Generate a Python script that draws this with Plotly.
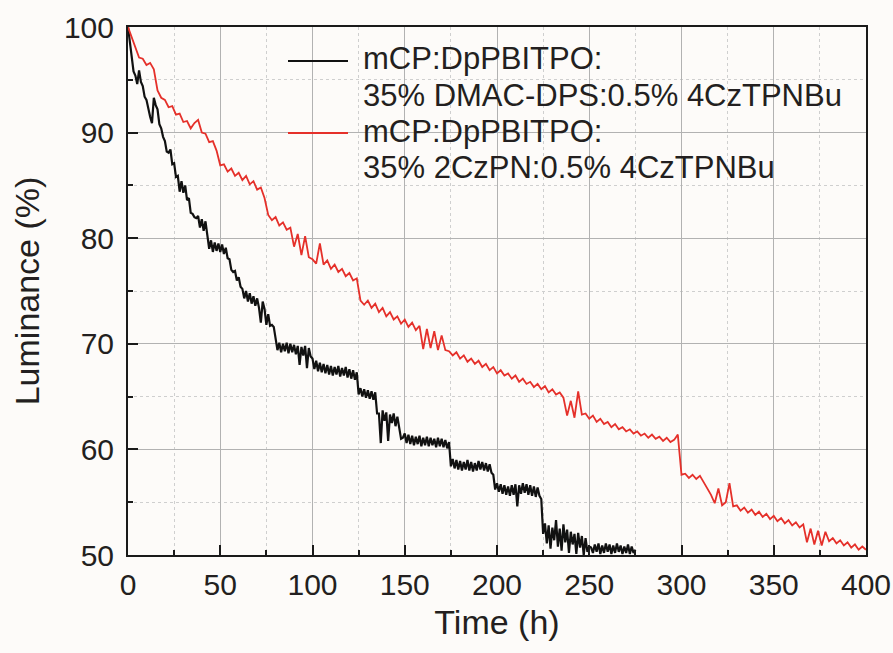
import plotly.graph_objects as go

# ---------------- data ----------------
black_name = "mCP:DpPBITPO: 35% DMAC-DPS:0.5% 4CzTPNBu"
red_name = "mCP:DpPBITPO: 35% 2CzPN:0.5% 4CzTPNBu"

black_t = list(range(0, 276))
black_lum = [
    100.0, 98.6, 97.4, 95.8, 95.4, 94.6, 95.9, 94.8, 94.4, 93.4,
    93.1, 92.2, 91.5, 90.9, 93.3, 92.6, 92.2, 90.8, 90.4, 89.6,
    89.2, 88.2, 88.1, 88.4, 87.0, 87.1, 85.8, 85.9, 84.4, 85.4,
    84.3, 85.0, 83.6, 83.8, 82.4, 82.3, 82.0, 81.9, 82.1, 81.0,
    81.8, 80.7, 81.6, 80.3, 79.0, 79.8, 78.7, 79.6, 78.8, 79.5,
    78.7, 79.4, 78.5, 79.1, 78.1, 78.0, 77.0, 76.8, 76.9, 76.0,
    76.3, 75.4, 75.2, 74.3, 75.0, 74.0, 74.8, 73.8, 74.5, 73.6,
    74.3, 73.4, 72.0, 74.0, 73.3, 71.8, 72.8, 71.7, 71.8, 71.6,
    70.4, 69.4, 70.1, 69.2, 70.0, 69.3, 70.1, 69.1, 70.0, 69.2,
    69.9, 69.0, 69.8, 68.0, 69.7, 68.9, 69.8, 67.7, 69.6, 68.8,
    68.6, 67.6, 68.4, 67.4, 68.2, 67.3, 68.1, 67.2, 68.0, 67.1,
    67.9, 67.0, 67.8, 67.1, 67.9, 66.9, 67.7, 67.0, 67.8, 66.8,
    67.6, 66.7, 67.5, 66.6, 67.3, 65.2, 65.8, 65.0, 65.7, 64.9,
    65.6, 64.8, 65.5, 64.7, 65.4, 63.4, 63.4, 60.6, 63.7, 62.7,
    63.5, 60.8, 63.3, 62.5, 63.4, 62.2, 63.1, 62.0, 61.0, 61.1,
    61.5, 60.6, 61.4, 60.5, 61.3, 60.4, 61.2, 60.5, 61.3, 60.3,
    61.1, 60.4, 61.2, 60.3, 61.1, 60.4, 61.0, 60.2, 61.1, 60.3,
    61.0, 60.2, 60.9, 60.1, 60.7, 58.4, 59.1, 58.2, 59.0, 58.1,
    58.9, 58.0, 58.8, 58.1, 59.0, 58.0, 58.8, 57.9, 58.7, 58.0,
    58.9, 58.1, 58.8, 58.0, 58.7, 57.9, 58.6, 57.8, 57.6, 56.2,
    56.8, 56.0, 56.7, 55.8, 56.6, 55.7, 56.5, 55.6, 56.6, 55.7,
    56.7, 54.6, 56.6, 55.8, 56.8, 55.9, 56.7, 55.7, 56.6, 55.6,
    56.5, 55.5, 56.4, 55.6, 55.3, 52.0, 53.0, 51.1, 52.8, 50.6,
    52.6, 51.4, 53.3, 50.8, 52.5, 50.4, 52.9, 51.2, 52.4, 50.2,
    52.2, 51.0, 52.0, 50.1, 52.1, 50.7, 51.8, 50.0, 51.6, 50.3,
    50.8, 50.7, 50.2, 51.0, 50.3, 51.1, 50.1, 50.9, 50.2, 51.1,
    50.3, 51.0, 50.1, 50.9, 50.2, 51.1, 50.3, 50.9, 50.1, 50.8,
    50.2, 51.0, 50.1, 50.8, 50.2, 50.5,
]

red_t = list(range(0, 401, 2))
red_lum = [
    100.0, 99.0, 98.2, 97.1, 97.0, 96.4, 96.6, 96.0,
    94.0, 93.3, 93.1, 92.4, 92.5, 91.7, 91.8, 91.0, 91.1, 90.4, 90.9, 91.2, 90.0, 89.9, 89.1, 89.2, 88.3,
    86.9, 87.0, 86.3, 86.6, 85.9, 86.2, 85.5, 85.9, 85.1, 85.4, 84.6, 84.8, 83.8,
    82.2, 81.7, 82.0, 81.2, 81.5, 80.8, 81.0,
    79.2, 80.4, 78.4, 80.2, 78.2,
    78.0, 77.6, 79.5, 77.5, 77.9, 77.1, 77.5, 76.8, 77.1, 76.4, 76.7, 76.0, 76.2,
    74.1, 73.7, 74.1, 73.4, 73.8, 73.0, 73.4, 72.6, 73.0, 72.3, 72.6, 71.9, 72.3, 71.6, 72.0, 71.3, 71.7,
    69.5, 71.4, 69.6, 71.2, 69.4, 70.8, 69.4,
    69.3, 68.9, 69.2, 68.6, 68.9, 68.3, 68.6, 68.1, 68.4, 67.8, 68.1, 67.5, 67.8, 67.2, 67.5, 67.0,
    67.2, 66.7, 67.0, 66.4, 66.7, 66.2, 66.4, 65.9, 66.2, 65.7, 66.0, 65.4, 65.7, 65.2, 65.4, 64.9,
    63.2, 64.6, 63.0, 65.5, 63.3,
    63.4, 62.9, 63.2, 62.6, 62.9, 62.4, 62.6, 62.1, 62.4, 61.9, 62.1, 61.7, 61.9, 61.5, 61.7, 61.3,
    61.5, 61.1, 61.4, 61.0, 61.2, 60.8, 61.1, 60.7, 60.9, 61.4,
    57.6, 57.7, 57.3, 57.6, 57.2, 57.5,
    56.9, 56.3, 55.7, 54.9, 56.3, 54.7, 55.0, 56.8, 54.6, 54.7,
    54.2, 54.5, 54.0, 54.3, 53.8, 54.1, 53.6, 53.9, 53.4, 53.7, 53.2, 53.5, 53.0, 53.3, 52.8, 53.1, 52.6, 52.9,
    51.2, 52.5, 51.0, 52.3, 50.9, 52.2,
    51.3, 51.6, 51.1, 51.4, 50.9, 51.2, 50.7, 51.0, 50.5, 50.8, 50.5,
]

x_title = "Time (h)"
y_title = "Luminance (%)"
legend_lines = [
    "mCP:DpPBITPO:",
    "35% DMAC-DPS:0.5% 4CzTPNBu",
    "mCP:DpPBITPO:",
    "35% 2CzPN:0.5% 4CzTPNBu",
]

# ---------------- figure ----------------
BG = "#fdfbf9"
FONT = "Liberation Sans, Arial, sans-serif"
BLACK = "#111111"
RED = "#e5302a"
TXT = "#231f20"

fig = go.Figure()
fig.add_trace(go.Scatter(x=black_t, y=black_lum, mode="lines", name=black_name,
                         line=dict(color=BLACK, width=2.2), showlegend=False))
fig.add_trace(go.Scatter(x=red_t, y=red_lum, mode="lines", name=red_name,
                         line=dict(color=RED, width=1.8), showlegend=False))

axis_common = dict(
    showline=True, linecolor="#1a1a1a", linewidth=2, mirror=True,
    ticks="inside", ticklen=10, tickwidth=2, tickcolor="#1a1a1a",
    showgrid=True, gridcolor="#b2b2b2", gridwidth=1,
    zeroline=False, automargin=False,
    tickfont=dict(family=FONT, size=30, color=TXT),
)

fig.update_xaxes(
    range=[0, 400], dtick=50, tick0=0,
    minor=dict(dtick=25, ticks="inside", ticklen=5, tickwidth=2, tickcolor="#1a1a1a",
               showgrid=True, gridcolor="#cfcfcf", griddash="dot", gridwidth=1),
    title=dict(text=x_title, font=dict(family=FONT, size=34, color=TXT), standoff=10),
    ticklabelstandoff=2,
    **axis_common,
)
fig.update_yaxes(
    range=[50, 100], dtick=10, tick0=50,
    minor=dict(dtick=5, ticks="inside", ticklen=5, tickwidth=2, tickcolor="#1a1a1a",
               showgrid=True, gridcolor="#cfcfcf", griddash="dot", gridwidth=1),
    title=dict(text=y_title, font=dict(family=FONT, size=34, color=TXT), standoff=14),
    ticklabelstandoff=6,
    **axis_common,
)

# plot area: x 128..866, y 27..555 px
PW, PH = 738.0, 528.0
def px(xp):
    return (xp - 128) / PW
def py(yp):
    return (555 - yp) / PH

# legend drawn as lines + text
for yp, col in [(61, BLACK), (133, RED)]:
    fig.add_shape(type="line", xref="paper", yref="paper",
                  x0=px(288), x1=px(348), y0=py(yp), y1=py(yp),
                  line=dict(color=col, width=2))
for txt, yp in zip(legend_lines, [59, 95, 131, 167]):
    fig.add_annotation(text=txt, xref="paper", yref="paper", x=px(361), y=py(yp),
                       xanchor="left", yanchor="middle", showarrow=False,
                       font=dict(family=FONT, size=31, color=TXT))

fig.update_layout(
    width=893, height=653,
    margin=dict(l=128, r=27, t=27, b=98),
    paper_bgcolor=BG, plot_bgcolor=BG,
    showlegend=False,
)

fig.write_html("out.html")
